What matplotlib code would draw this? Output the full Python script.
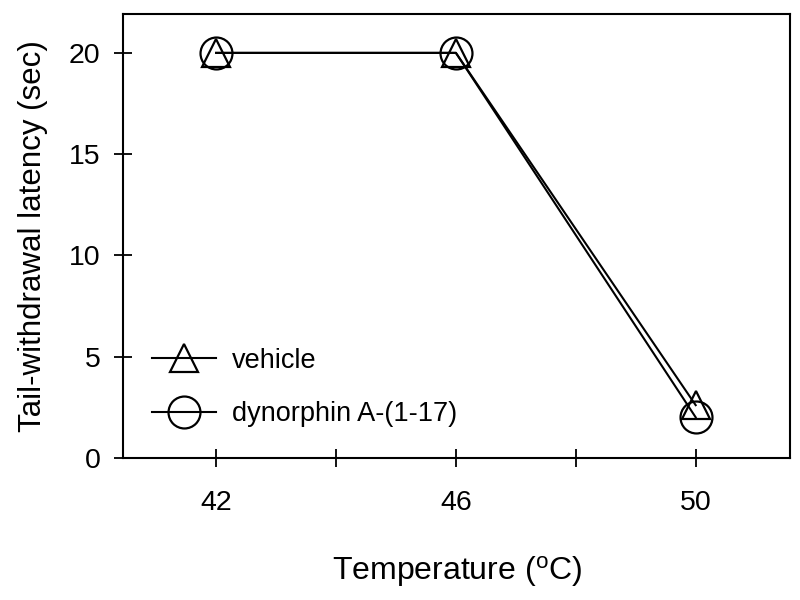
import matplotlib
matplotlib.use("Agg")
import matplotlib.pyplot as plt

plt.rcParams['font.family'] = ['Liberation Sans', 'DejaVu Sans']
plt.rcParams['mathtext.default'] = 'regular'

# data
temperature = [42, 46, 50]
vehicle = [20.0, 20.0, 2.6]
dynorphin = [20.0, 20.0, 2.0]

xticks = [42, 44, 46, 48, 50]
xticklabels = ['42', '', '46', '', '50']
yticks = [0, 5, 10, 15, 20]

fig = plt.figure(figsize=(8, 6), dpi=100)
ax = fig.add_axes([0.154, 0.237, 0.834, 0.740])

ax.plot(temperature, vehicle, color='black', linewidth=1.5, marker='^',
        markersize=20, fillstyle='none', markeredgewidth=1.6, label='vehicle')
ax.plot(temperature, dynorphin, color='black', linewidth=1.5, marker='o',
        markersize=23, fillstyle='none', markeredgewidth=1.6,
        label='dynorphin A-(1-17)')

ax.set_xlim(40.45, 51.58)
ax.set_ylim(0, 21.93)
ax.set_xticks(xticks)
ax.set_xticklabels(xticklabels)
ax.set_yticks(yticks)

ax.tick_params(axis='both', direction='inout', length=13, width=1.3,
               labelsize=20.5)
ax.tick_params(axis='x', pad=17)
ax.tick_params(axis='y', pad=10)
for sp in ax.spines.values():
    sp.set_linewidth(1.5)

ax.set_xlabel('Temperature ($^{o}$C)', fontsize=23, labelpad=27)
ax.set_ylabel('Tail-withdrawal latency (sec)', fontsize=22.5, labelpad=15)

ax.legend(loc='lower left', frameon=False, fontsize=19.5, handlelength=2.35,
          borderaxespad=0.0, labelspacing=1.0, handletextpad=0.6,
          bbox_to_anchor=(0.027, 0.045))

fig.savefig('out.png', dpi=100)
